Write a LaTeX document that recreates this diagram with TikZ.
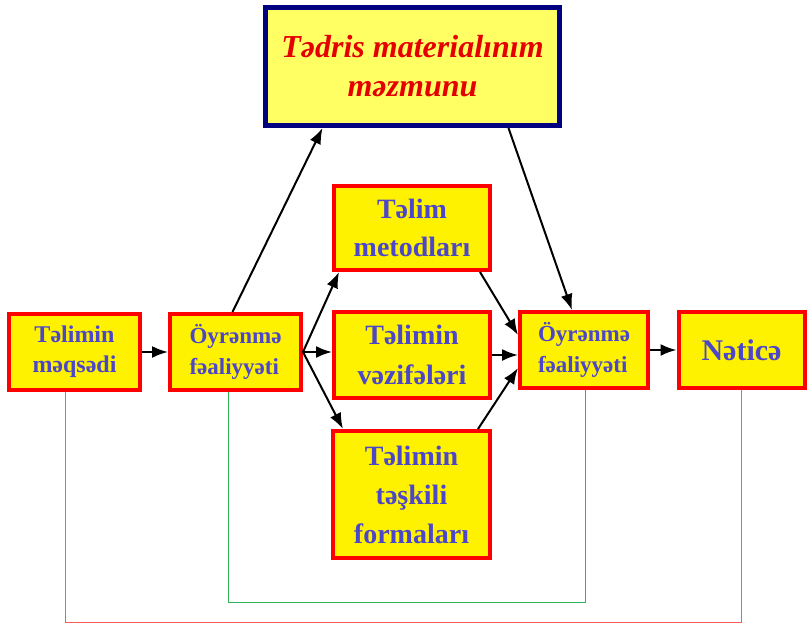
\documentclass[tikz,border=0pt]{standalone}
\usepackage{fontspec}
\setmainfont{Liberation Serif}
\usetikzlibrary{arrows.meta}
\definecolor{txtblue}{RGB}{76,70,200}
\definecolor{navybox}{RGB}{0,0,128}
\definecolor{paleyellow}{RGB}{255,255,100}
\definecolor{loopred}{RGB}{255,90,90}
\definecolor{loopgreen}{RGB}{50,180,90}
\tikzset{
    box/.style={draw=red, line width=4pt, fill=yellow, text=txtblue, align=center, inner sep=0pt},
    topbox/.style={draw=navybox, line width=5pt, fill=paleyellow, text=red!90!black, align=center, inner sep=0pt},
    arr/.style={-{Latex[length=16pt,width=12pt]}, line width=2pt, black},
    redloop/.style={draw=loopred, line width=1pt},
    greenloop/.style={draw=loopgreen, line width=1pt}
}
\begin{document}
\begin{tikzpicture}[x=1pt,y=-1pt]
                \useasboundingbox (0,0) rectangle (807,625);
                \node [topbox, minimum width=294pt, minimum height=118pt, font=\fontsize{32}{39}\selectfont\bfseries\itshape] (content) at (412.5,66.5) {Tədris materialınım\\məzmunu};
                \node [box, minimum width=131pt, minimum height=76pt, font=\fontsize{24}{30}\selectfont\bfseries] (goal) at (74.5,352) {Təlimin\\məqsədi};
                \node [box, minimum width=131pt, minimum height=76pt, font=\fontsize{23}{31}\selectfont\bfseries, align=left] (act1) at (235.5,352) {Öyrənmə\\fəaliyyəti};
                \node [box, minimum width=156pt, minimum height=84pt, font=\fontsize{28}{38}\selectfont\bfseries] (methods) at (412,228) {Təlim\\metodları};
                \node [box, minimum width=156pt, minimum height=86pt, font=\fontsize{28}{40}\selectfont\bfseries] (tasks) at (412,355) {Təlimin\\vəzifələri};
                \node [box, minimum width=157pt, minimum height=127pt, font=\fontsize{28}{39}\selectfont\bfseries] (forms) at (411.5,494.5) {Təlimin\\təşkili\\formaları};
                \node [box, minimum width=128pt, minimum height=76pt, font=\fontsize{23}{31}\selectfont\bfseries, align=left] (act2) at (584,350) {Öyrənmə\\fəaliyyəti};
                \node [box, minimum width=126pt, minimum height=76pt, font=\fontsize{30}{36}\selectfont\bfseries] (result) at (741.5,350) {Nəticə};
                \coordinate (rl) at (65,622);
                \coordinate (rr) at (741,622);
                \coordinate (gl) at (228,602);
                \coordinate (gr) at (585,602);
                \draw [arr] (goal.east) -- (act1.west |- goal.east);
                \draw [arr] (act1.east) -- ([xshift=7pt]methods.south west);
                \draw [arr] (act1.east) -- (tasks.west |- act1.east);
                \draw [arr] (act1.east) -- ([xshift=12pt]forms.north west);
                \draw [arr] ([xshift=-3pt]act1.north) -- ([xshift=-90pt]content.south);
                \draw [arr] ([xshift=96pt]content.south) -- ([xshift=-12pt]act2.north);
                \draw [arr] ([xshift=-12pt]methods.south east) -- ([yshift=15pt]act2.west);
                \draw [arr] (tasks.east) -- (act2.west |- tasks.east);
                \draw [arr] ([xshift=-14pt]forms.north east) -- ([yshift=-18pt]act2.west);
                \draw [arr] (act2.east) -- (result.west |- act2.east);
                \draw [redloop] (goal.south -| rl) -- (rl) -- (rr) -- (result.south -| rr);
                \draw [greenloop] (act1.south -| gl) -- (gl) -- (gr) -- (act2.south -| gr);
            \end{tikzpicture}
\end{document}
